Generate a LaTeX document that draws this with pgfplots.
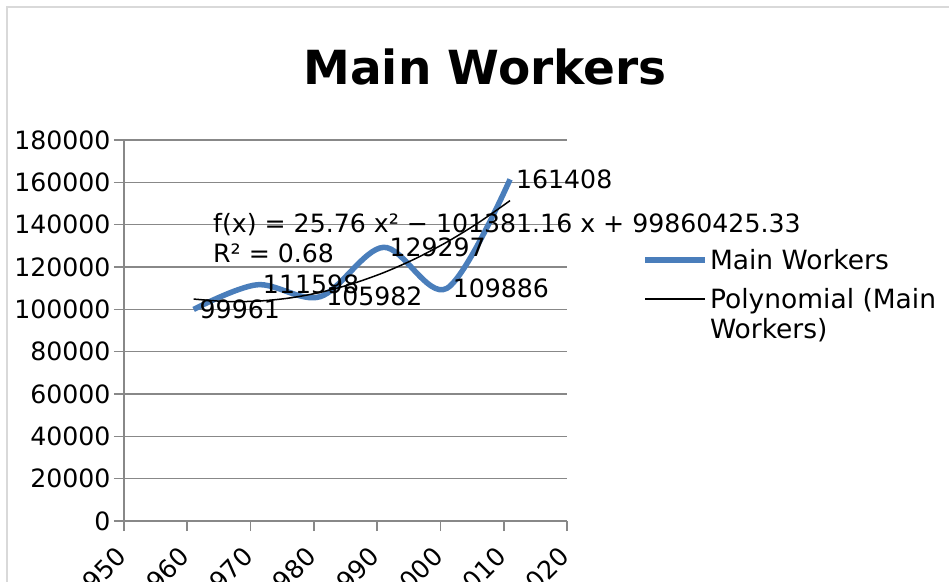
\documentclass[border=0pt]{standalone}
\usepackage{fontspec}
\setmainfont{DejaVu Sans}
\usepackage{pgfplots}
\pgfplotsset{compat=1.18}
\definecolor{serieblue}{RGB}{74,126,187}
\definecolor{gridgray}{RGB}{136,136,136}
\definecolor{framegray}{RGB}{217,217,217}
\newcommand{\lblfont}{\fontsize{25.2}{30}\selectfont}
\begin{document}
\begin{tikzpicture}[x=1pt,y=1pt]
\useasboundingbox (0,0) rectangle (949,581);
\clip (0,0) rectangle (949,581);
\draw[framegray, line width=1.5pt] (7,-5) -- (7,574) -- (955,574);
\node[font=\bfseries\fontsize{47}{56}\selectfont, anchor=base] at (485,496) {Main Workers};
\begin{axis}[
  at={(124pt,60pt)}, anchor=south west,
  scale only axis, width=443pt, height=381pt,
  xmin=1950, xmax=2020, ymin=0, ymax=180000,
  enlargelimits=false, clip=false, scaled y ticks=false,
  axis x line*=bottom, axis y line*=left,
  axis line style={gridgray, line width=1.6pt},
  xtick={1950,1960,...,2020},
  xticklabels={1950,1960,1970,1980,1990,2000,2010,2020},
  ytick={0,20000,...,180000},
  yticklabels={0,20000,40000,60000,80000,100000,120000,140000,160000,180000},
  tick align=outside, major tick length=10pt,
  tick style={gridgray, line width=1.6pt},
  ymajorgrids, grid style={gridgray, line width=1.6pt},
  ticklabel style={font=\lblfont},
  xticklabel style={rotate=45, anchor=east},
  xticklabel shift=18.5pt,
  legend style={at={(1.17,0.719)}, anchor=north west, draw=none, fill=none,
    font=\fontsize{26.5}{30}\selectfont, inner sep=0pt, row sep=13pt},
  legend cell align=left,
  legend image code/.code={\draw[#1] (0pt,0pt) -- (60pt,0pt);},
]
\addplot[serieblue, line width=5.5pt, smooth, tension=0.55,
  nodes near coords, point meta=explicit symbolic,
  every node near coord/.append style={anchor=west, black, font=\lblfont}]
  coordinates {(1961,99961)[99961] (1971,111598)[111598] (1981,105982)[105982]
               (1991,129297)[129297] (2001,109886)[109886] (2011,161408)[161408]};
\addlegendentry{Main Workers}
\addplot[black, line width=1.5pt, smooth] coordinates {
  (1961,104864.15) (1966,103717.37) (1971,103858.49) (1976,105287.51)
  (1981,108004.43) (1986,112009.25) (1991,117301.97) (1996,123882.59)
  (2001,131751.11) (2006,140907.53) (2011,151351.85)};
\addlegendentry{\begin{tabular}[t]{@{}l@{}}Polynomial (Main\\Workers)\end{tabular}}
\node[anchor=west, inner sep=0pt, font=\lblfont] at (axis cs:1964.06,139843) {f(x) = 25.76 x² − 101381.16 x + 99860425.33};
\node[anchor=west, inner sep=0pt, font=\lblfont] at (axis cs:1964.06,126614) {R² = 0.68};
\end{axis}
\end{tikzpicture}
\end{document}
